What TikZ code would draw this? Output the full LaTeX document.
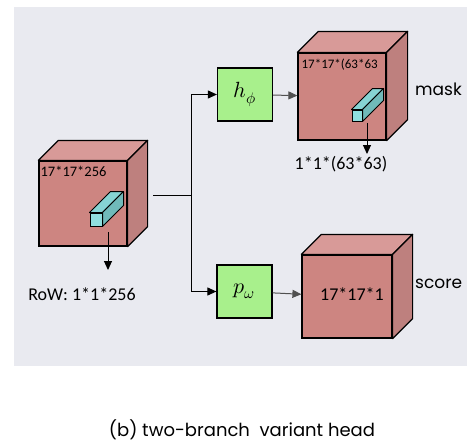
\documentclass[tikz,border=0pt]{standalone}
\usepackage{fontspec}
\usepackage{unicode-math}
\setmainfont{Carlito}
\setmathfont{Latin Modern Math}
\newfontfamily\geofont{Poppins}
\usetikzlibrary{arrows.meta,calc,positioning}

\definecolor{bggray}{HTML}{E9EAF0}
\definecolor{cubefront}{HTML}{CD8581}
\definecolor{cubetop}{HTML}{D89A98}
\definecolor{cubeside}{HTML}{BE807E}
\definecolor{barfront}{HTML}{90DEDE}
\definecolor{bartop}{HTML}{86D4D4}
\definecolor{barside}{HTML}{70BABA}
\definecolor{boxgreen}{HTML}{A8F08C}
\definecolor{arrowgray}{HTML}{505050}

\tikzset{
  cubeface/.style={draw, line width=1.2pt, fill=cubefront, inner sep=0pt},
  barface/.style={draw, line width=1pt, fill=barfront, inner sep=0pt},
  headbox/.style={draw, line width=1.2pt, fill=boxgreen, inner sep=0pt,
    minimum width=55pt, minimum height=53pt, font=\fontsize{22}{26}\selectfont},
  link/.style={line width=1pt, -{Triangle[length=9pt,width=8pt]}},
  graylink/.style={line width=1pt, arrowgray, -{Triangle[length=9pt,width=8pt]}},
  dimtext/.style={inner sep=0pt, font=\fontsize{18}{20}\selectfont},
  tagtext/.style={anchor=west, inner sep=0pt, font=\geofont\fontsize{17}{20}\selectfont}
}

% top and right faces behind a front face node
\newcommand{\cubeparts}[4]{%
  \draw[line width=#4, fill=#3top, line join=round] (#1.north west) -- ++(#2,-#2)
    -- ($(#1.north east)+(#2,-#2)$) -- (#1.north east) -- cycle;
  \draw[line width=#4, fill=#3side, line join=round] (#1.north east) -- ++(#2,-#2)
    -- ($(#1.south east)+(#2,-#2)$) -- (#1.south east) -- cycle;}

\begin{document}
\begin{tikzpicture}[x=1pt, y=-1pt]
  \useasboundingbox (0,0) rectangle (467,442);
  \fill[bggray] (14,7) rectangle (467,366);

  % input feature
  \node[cubeface, minimum width=88pt, minimum height=85pt] (feat) at (83,203.5) {};
  \cubeparts{feat}{20}{cube}{1.2pt}
  \node[anchor=north west, inner sep=0pt, font=\fontsize{14.5}{16}\selectfont]
    (featlbl) at ([xshift=2pt,yshift=-6pt]feat.north west) {17*17*256};
  \node[barface, minimum width=12pt, minimum height=13pt] (featbar) at (96,219.5) {};
  \cubeparts{featbar}{21}{bar}{1pt}
  \coordinate (rowtop) at (108,232);
  \coordinate (rowtip) at (108,270);
  \draw[link] (rowtop) -- (rowtip);
  \node[dimtext] (rowlbl) at (82,294) {RoW: 1*1*256};

  % two heads
  \coordinate (featout) at (153,195);
  \coordinate (split) at (191,195);
  \node[headbox] (hbox) at (245,94.5) {$h_\phi$};
  \node[headbox] (pbox) at (244.5,291.5) {$p_\omega$};
  \draw[line width=1pt] (featout) -- (split);
  \draw[link] (split) |- (hbox);
  \draw[link] (split) |- (pbox);

  % mask branch
  \node[cubeface, minimum width=88pt, minimum height=87pt] (maskcube) at (342,96.5) {};
  \cubeparts{maskcube}{21}{cube}{1.2pt}
  \node[anchor=north west, inner sep=0pt, font=\fontsize{13}{15}\selectfont]
    (masklbl) at ([xshift=4pt,yshift=-6pt]maskcube.north west) {17*17*(63*63};
  \node[barface, minimum width=10pt, minimum height=11pt] (maskbar) at (357,115.5) {};
  \cubeparts{maskbar}{21}{bar}{1pt}
  \coordinate (pixtop) at (367,123);
  \coordinate (pixtip) at (367,154);
  \draw[link] (pixtop) -- (pixtip);
  \node[dimtext] (pixlbl) at (341,164) {1*1*(63*63)};
  \node[tagtext] (masktag) at (415,89) {mask};
  \draw[graylink] (hbox) -- (maskcube);

  % score branch
  \node[cubeface, minimum width=90pt, minimum height=83pt] (scorecube) at (347,296.5) {};
  \cubeparts{scorecube}{20}{cube}{1.2pt}
  \node[dimtext] (scorelbl) at (352,294) {17*17*1};
  \node[tagtext] (scoretag) at (415,284) {score};
  \draw[graylink] (pbox) -- (scorecube);

  % caption
  \node[inner sep=0pt, font=\geofont\fontsize{18}{21}\selectfont]
    (caption) at (242,430) {(b) two-branch\ \ variant head};
\end{tikzpicture}
\end{document}
